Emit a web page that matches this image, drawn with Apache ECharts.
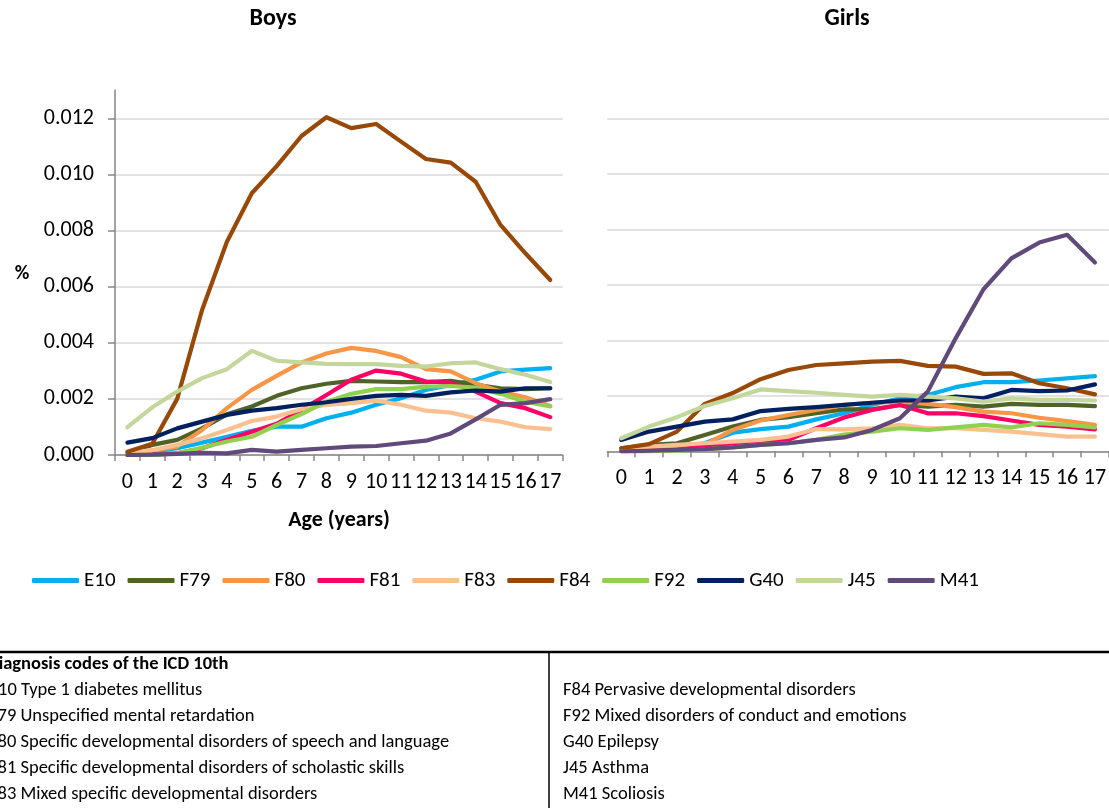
<!DOCTYPE html>
<html>
<head>
<meta charset="utf-8">
<title>Prevalence by age</title>
<script src="https://cdn.jsdelivr.net/npm/echarts@6/dist/echarts.min.js"></script>
<style>
  html, body { margin: 0; padding: 0; background: #fff; }
  #chart { width: 1109px; height: 808px; }
</style>
</head>
<body>
<div id="chart"></div>
<script>
// Ages 0..17 on the category axis
const ages = ['0','1','2','3','4','5','6','7','8','9','10','11','12','13','14','15','16','17'];
const yTicks = [0, 0.002, 0.004, 0.006, 0.008, 0.010, 0.012];

const codes  = ['E10','F79','F80','F81','F83','F84','F92','G40','J45','M41'];
const colors = ['#00b0f0','#4f6228','#f79646','#ff0066','#fac090','#984807','#92d050','#002060','#c3d69b','#604a7b'];

// Boys, share (%) by age
const boysE10 = [0.00004,0.00012,0.00024,0.00044,0.00065,0.00086,0.00101,0.00101,0.00131,0.00151,0.00179,0.00202,0.00232,0.00250,0.00268,0.00298,0.00304,0.00310];
const boysF79 = [0.00008,0.00036,0.00054,0.00095,0.00145,0.00173,0.00211,0.00238,0.00254,0.00264,0.00262,0.00260,0.00260,0.00264,0.00250,0.00238,0.00235,0.00238];
const boysF80 = [0.00004,0.00015,0.00030,0.00089,0.00167,0.00232,0.00282,0.00330,0.00362,0.00382,0.00371,0.00349,0.00306,0.00298,0.00256,0.00226,0.00206,0.00175];
const boysF81 = [0.00000,0.00001,0.00006,0.00024,0.00054,0.00083,0.00111,0.00161,0.00214,0.00268,0.00301,0.00290,0.00262,0.00258,0.00226,0.00185,0.00167,0.00135];
const boysF83 = [0.00006,0.00018,0.00036,0.00060,0.00089,0.00121,0.00137,0.00163,0.00179,0.00185,0.00194,0.00179,0.00158,0.00151,0.00131,0.00119,0.00099,0.00092];
const boysF84 = [0.00012,0.00040,0.00200,0.00517,0.00760,0.00933,0.01030,0.01137,0.01204,0.01165,0.01180,0.01117,0.01055,0.01042,0.00974,0.00820,0.00719,0.00624];
const boysF92 = [0.00000,0.00000,0.00006,0.00026,0.00048,0.00065,0.00107,0.00146,0.00190,0.00218,0.00235,0.00235,0.00244,0.00246,0.00240,0.00218,0.00190,0.00173];
const boysG40 = [0.00044,0.00060,0.00095,0.00119,0.00143,0.00158,0.00167,0.00179,0.00188,0.00200,0.00211,0.00214,0.00211,0.00223,0.00230,0.00226,0.00238,0.00238];
const boysJ45 = [0.00099,0.00170,0.00226,0.00274,0.00306,0.00371,0.00336,0.00330,0.00325,0.00324,0.00324,0.00318,0.00315,0.00327,0.00330,0.00306,0.00286,0.00260];
const boysM41 = [0.00000,0.00001,0.00004,0.00008,0.00006,0.00018,0.00012,0.00018,0.00024,0.00030,0.00032,0.00042,0.00051,0.00077,0.00127,0.00179,0.00185,0.00199];

// Girls, share (%) by age
const girlsE10 = [0.00002,0.00011,0.00017,0.00029,0.00067,0.00080,0.00089,0.00115,0.00137,0.00167,0.00191,0.00203,0.00231,0.00249,0.00249,0.00255,0.00263,0.00271];
const girlsF79 = [0.00011,0.00023,0.00029,0.00059,0.00089,0.00113,0.00123,0.00137,0.00151,0.00151,0.00167,0.00161,0.00167,0.00161,0.00171,0.00167,0.00167,0.00163];
const girlsF80 = [0.00005,0.00011,0.00017,0.00023,0.00077,0.00111,0.00131,0.00149,0.00167,0.00175,0.00179,0.00171,0.00159,0.00143,0.00137,0.00121,0.00109,0.00095];
const girlsF81 = [0.00002,0.00002,0.00005,0.00017,0.00023,0.00029,0.00041,0.00083,0.00122,0.00149,0.00167,0.00137,0.00137,0.00127,0.00111,0.00095,0.00089,0.00079];
const girlsF83 = [0.00007,0.00017,0.00023,0.00029,0.00035,0.00041,0.00053,0.00080,0.00079,0.00083,0.00095,0.00083,0.00083,0.00077,0.00071,0.00062,0.00053,0.00053];
const girlsF84 = [0.00011,0.00026,0.00071,0.00171,0.00210,0.00260,0.00293,0.00311,0.00317,0.00323,0.00326,0.00308,0.00305,0.00279,0.00281,0.00245,0.00227,0.00205];
const girlsF92 = [0.00000,0.00000,0.00002,0.00007,0.00014,0.00023,0.00029,0.00041,0.00060,0.00071,0.00083,0.00077,0.00086,0.00095,0.00086,0.00101,0.00095,0.00086];
const girlsG40 = [0.00041,0.00071,0.00089,0.00107,0.00115,0.00145,0.00153,0.00159,0.00167,0.00175,0.00183,0.00183,0.00197,0.00191,0.00221,0.00217,0.00219,0.00241];
const girlsJ45 = [0.00047,0.00089,0.00123,0.00163,0.00191,0.00223,0.00217,0.00211,0.00203,0.00197,0.00203,0.00197,0.00191,0.00179,0.00191,0.00185,0.00185,0.00183];
const girlsM41 = [0.00000,0.00002,0.00005,0.00008,0.00014,0.00023,0.00029,0.00041,0.00050,0.00077,0.00119,0.00215,0.00407,0.00584,0.00695,0.00752,0.00780,0.00680];

// Key to the diagnosis codes
const tableTitle = 'Diagnosis codes of the ICD 10th';
const tableLeft = [
  'E10 Type 1 diabetes mellitus',
  'F79 Unspecified mental retardation',
  'F80 Specific developmental disorders of speech and language',
  'F81 Specific developmental disorders of scholastic skills',
  'F83 Mixed specific developmental disorders'
];
const tableRight = [
  'F84 Pervasive developmental disorders',
  'F92 Mixed disorders of conduct and emotions',
  'G40 Epilepsy',
  'J45 Asthma',
  'M41 Scoliosis'
];

const boysData  = [boysE10, boysF79, boysF80, boysF81, boysF83, boysF84, boysF92, boysG40, boysJ45, boysM41];
const girlsData = [girlsE10, girlsF79, girlsF80, girlsF81, girlsF83, girlsF84, girlsF92, girlsG40, girlsJ45, girlsM41];

const FONT = 'Carlito, Lato, "Open Sans", sans-serif';
const AXIS_GREY = '#868686';
const GRID_GREY = '#d9d9d9';

function lineSeries(name, data, color, idx) {
  return {
    type: 'line', name: name, data: data,
    xAxisIndex: idx, yAxisIndex: idx,
    showSymbol: false, symbol: 'none', smooth: false,
    lineStyle: { color: color, width: 4.2, cap: 'round', join: 'round' },
    itemStyle: { color: color },
    emphasis: { disabled: true },
    animation: false
  };
}

function xAxisFor(gridIndex) {
  return {
    type: 'category', gridIndex: gridIndex, data: ages, boundaryGap: true,
    axisLine: { lineStyle: { color: AXIS_GREY, width: 1.5 } },
    axisTick: { show: true, length: 6, lineStyle: { color: AXIS_GREY, width: 1.5 } },
    axisLabel: { interval: 0, margin: 16, color: '#000', fontSize: 22, fontFamily: FONT },
    splitLine: { show: false }
  };
}

function yAxisFor(gridIndex, withLabels) {
  return {
    type: 'value', gridIndex: gridIndex, min: 0, max: 0.013, interval: 0.002,
    axisLine: { show: withLabels, lineStyle: { color: AXIS_GREY, width: 1.5 } },
    axisTick: { show: withLabels, length: 7, customValues: yTicks, lineStyle: { color: AXIS_GREY, width: 1.5 } },
    axisLabel: {
      show: withLabels, customValues: yTicks,
      margin: 21, color: '#000', fontSize: 22, fontFamily: FONT,
      formatter: v => v.toFixed(3)
    },
    splitLine: { show: true, lineStyle: { color: GRID_GREY, width: 1.5 } }
  };
}

const series = [];
codes.forEach((c, i) => series.push(lineSeries(c, boysData[i], colors[i], 0)));
codes.forEach((c, i) => series.push(lineSeries(c, girlsData[i], colors[i], 1)));

const graphics = [
  { type: 'text', x: 273, y: 19, style: { text: 'Boys', font: 'bold 24px ' + FONT, fill: '#000', textAlign: 'center', textVerticalAlign: 'middle' } },
  { type: 'text', x: 847, y: 19, style: { text: 'Girls', font: 'bold 24px ' + FONT, fill: '#000', textAlign: 'center', textVerticalAlign: 'middle' } },
  { type: 'text', x: 22, y: 274, style: { text: '%', font: 'bold 20px ' + FONT, fill: '#000', textAlign: 'center', textVerticalAlign: 'middle' } },
  { type: 'text', x: 339, y: 520, style: { text: 'Age (years)', font: 'bold 22px ' + FONT, fill: '#000', textAlign: 'center', textVerticalAlign: 'middle' } },
  // key table frame
  { type: 'line', shape: { x1: 0, y1: 652, x2: 1109, y2: 652 }, style: { stroke: '#000', lineWidth: 2.5 } },
  { type: 'line', shape: { x1: 549, y1: 652, x2: 549, y2: 808 }, style: { stroke: '#000', lineWidth: 1.5 } },
  { type: 'text', x: -13, y: 664, style: { text: tableTitle, font: 'bold 18.5px ' + FONT, fill: '#000', textVerticalAlign: 'middle' } }
];
tableLeft.forEach((t, i) => graphics.push({
  type: 'text', x: -11, y: 690 + i * 26,
  style: { text: t, font: '18.5px ' + FONT, fill: '#000', textVerticalAlign: 'middle' }
}));
tableRight.forEach((t, i) => graphics.push({
  type: 'text', x: 563, y: 690 + i * 26,
  style: { text: t, font: '18.5px ' + FONT, fill: '#000', textVerticalAlign: 'middle' }
}));

const chart = echarts.init(document.getElementById('chart'), null, { renderer: 'canvas' });
chart.setOption({
  animation: false,
  backgroundColor: '#fff',
  grid: [
    { left: 115, top: 90.3, width: 447.7, height: 364.7, containLabel: false },
    { left: 607.3, top: 90.5, width: 505.8, height: 360.8, containLabel: false }
  ],
  xAxis: [xAxisFor(0), xAxisFor(1)],
  yAxis: [yAxisFor(0, true), yAxisFor(1, false)],
  legend: {
    data: codes, left: 27, top: 565,
    icon: 'roundRect', itemWidth: 47, itemHeight: 5, itemGap: 12,
    textStyle: { fontFamily: FONT, fontSize: 21, color: '#000' },
    selectedMode: false
  },
  series: series,
  graphic: graphics
});
</script>
</body>
</html>
